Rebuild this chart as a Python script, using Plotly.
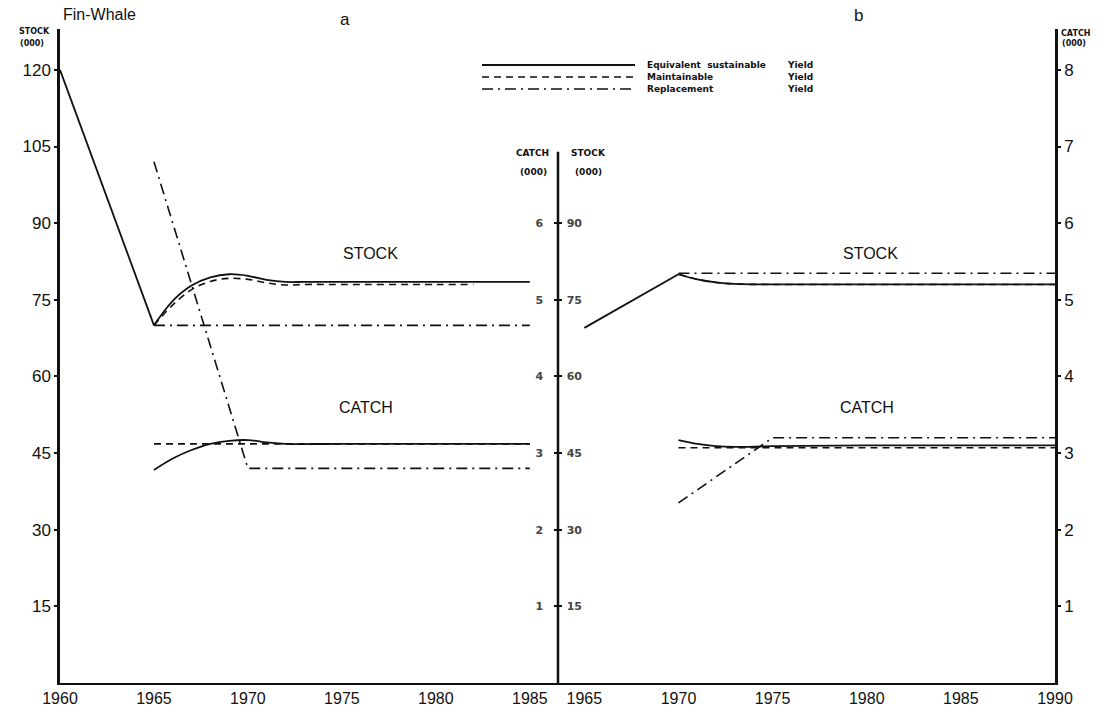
import plotly.graph_objects as go

# ---------------- data (stock in thousands, catch in thousands) ----------------
# Panel a
a_drop_years = [1960, 1965]
a_drop_stock = [120, 70]

a_years = [1965, 1966, 1967, 1968, 1969, 1970, 1971, 1972, 1973, 1975, 1980, 1985]
a_esy_stock = [70, 74.8, 77.8, 79.4, 80.0, 79.7, 78.9, 78.5, 78.5, 78.5, 78.5, 78.5]
a_my_years = [1965, 1966, 1967, 1968, 1969, 1970, 1971, 1972, 1973, 1975, 1980, 1982]
a_my_stock = [70, 74.0, 77.0, 78.6, 79.2, 79.0, 78.3, 77.9, 78.0, 78.0, 78.0, 78.0]
a_ry_years = [1965, 1985]
a_ry_stock = [70, 70]

a_esy_catch_years = [1965, 1966, 1967, 1968, 1969, 1970, 1971, 1972, 1975, 1985]
a_esy_catch = [2.78, 2.93, 3.04, 3.12, 3.16, 3.17, 3.14, 3.12, 3.12, 3.12]
a_my_catch_years = [1965, 1985]
a_my_catch = [3.12, 3.12]
a_ry_catch_years = [1965, 1970, 1985]
a_ry_catch = [6.8, 2.8, 2.8]

# Panel b
b_years = [1965, 1970, 1971, 1972, 1973, 1975, 1980, 1990]
b_esy_stock = [69.5, 80.0, 79.0, 78.4, 78.1, 78.0, 78.0, 78.0]
b_my_years = [1970, 1971, 1972, 1973, 1975, 1980, 1990]
b_my_stock = [80.0, 79.0, 78.4, 78.1, 78.0, 78.0, 78.0]
b_ry_years = [1970, 1990]
b_ry_stock = [80.2, 80.2]

b_esy_catch_years = [1970, 1971, 1972, 1973, 1975, 1980, 1990]
b_esy_catch = [3.17, 3.12, 3.09, 3.08, 3.09, 3.1, 3.1]
b_my_catch_years = [1970, 1990]
b_my_catch = [3.07, 3.07]
b_ry_catch_years = [1970, 1975, 1990]
b_ry_catch = [2.35, 3.2, 3.2]

stock_ticks = [15, 30, 45, 60, 75, 90, 105, 120]
mid_stock_ticks = [15, 30, 45, 60, 75, 90]
mid_stock_labels = ["15", "30", "45", "60", "75", "90"]
mid_catch_ticks = [1, 2, 3, 4, 5, 6]
right_catch_ticks = [1, 2, 3, 4, 5, 6, 7, 8]
a_year_ticks = [1960, 1965, 1970, 1975, 1980, 1985]
b_year_ticks = [1965, 1970, 1975, 1980, 1985, 1990]

legend_names = ["Equivalent  sustainable", "Maintainable", "Replacement"]

# ---------------- layout geometry ----------------
W, H = 1104, 707
L, R, T, B = 60, 49, 29, 24
PW, PH = W - L - R, H - T - B
STOCK_MAX = 128.0
CATCH_MAX = STOCK_MAX / 15.0
SPLIT = (558 - L) / PW


def px(X):
    return (X - L) / PW


def py(Y):
    return (H - B - Y) / PH


FONT = "Liberation Sans"
BOLD = "DejaVu Sans"
BLACK = "#111111"
SOLID = dict(color=BLACK, width=1.8)
DASH = dict(color=BLACK, width=1.6, dash="7px,5px")
DASHDOT = dict(color=BLACK, width=1.6, dash="11px,5px,2px,5px")

fig = go.Figure()


def add(x, y, line, xa, ya, shape="linear"):
    fig.add_trace(go.Scatter(x=x, y=y, mode="lines", line=dict(**line, shape=shape),
                             xaxis=xa, yaxis=ya, showlegend=False, hoverinfo="skip"))


# panel a stock (x, y)
add(a_drop_years, a_drop_stock, SOLID, "x", "y")
add(a_years, a_esy_stock, SOLID, "x", "y", "spline")
add(a_my_years, a_my_stock, DASH, "x", "y", "spline")
add(a_ry_years, a_ry_stock, DASHDOT, "x", "y")
# panel a catch (x, y3 overlaying y)
add(a_esy_catch_years, a_esy_catch, SOLID, "x", "y3", "spline")
add(a_my_catch_years, a_my_catch, DASH, "x", "y3")
add(a_ry_catch_years, a_ry_catch, DASHDOT, "x", "y3")
# panel b stock (x2, y2)
add(b_years[:2], b_esy_stock[:2], SOLID, "x2", "y2")
add(b_years[1:], b_esy_stock[1:], SOLID, "x2", "y2", "spline")
add(b_my_years, b_my_stock, DASH, "x2", "y2", "spline")
add(b_ry_years, b_ry_stock, DASHDOT, "x2", "y2")
# panel b catch (x2, y4 overlaying y2)
add(b_esy_catch_years, b_esy_catch, SOLID, "x2", "y4", "spline")
add(b_my_catch_years, b_my_catch, DASH, "x2", "y4")
add(b_ry_catch_years, b_ry_catch, DASHDOT, "x2", "y4")

axis_common = dict(showgrid=False, zeroline=False, color=BLACK, automargin=False)
mid_font = dict(size=11, family=BOLD, weight="bold")

fig.update_layout(
    width=W, height=H,
    margin=dict(l=L, r=R, t=T, b=B, pad=0, autoexpand=False),
    paper_bgcolor="white", plot_bgcolor="white",
    font=dict(family=FONT, color=BLACK),
    xaxis=dict(domain=[0, SPLIT], range=[1960, 1986.5], tickvals=a_year_ticks,
               showline=True, linewidth=2, linecolor=BLACK, ticks="",
               tickfont=dict(size=16), anchor="y", **axis_common),
    xaxis2=dict(domain=[SPLIT, 1], range=[1963.6, 1990], tickvals=b_year_ticks,
                showline=True, linewidth=2, linecolor=BLACK, ticks="",
                tickfont=dict(size=16), anchor="y2", **axis_common),
    # left stock axis (panel a)
    yaxis=dict(range=[0, STOCK_MAX], tickvals=stock_ticks, anchor="x", side="left",
               showline=True, linewidth=2.5, linecolor=BLACK, ticks="outside",
               ticklen=3, tickwidth=1.5, tickcolor=BLACK, tickfont=dict(size=17),
               **axis_common),
    # middle stock axis (panel b), labels to the right of the middle line
    yaxis2=dict(range=[0, STOCK_MAX], tickvals=mid_stock_ticks,
                ticktext=["\u00a0" + t for t in mid_stock_labels],
                anchor="x2", side="left",
                ticklabelposition="inside", showline=False,
                ticks="inside", ticklen=4, tickwidth=1.5, tickcolor=BLACK,
                tickfont=mid_font, **axis_common),
    # middle catch axis (panel a), labels to the left of the middle line
    yaxis3=dict(range=[0, CATCH_MAX], tickvals=mid_catch_ticks, overlaying="y",
                anchor="x", side="right", ticklabelposition="inside",
                ticklabelstandoff=10, showline=False, ticks="inside", ticklen=4,
                tickwidth=1.5, tickcolor=BLACK, tickfont=mid_font, **axis_common),
    # right catch axis (panel b)
    yaxis4=dict(range=[0, CATCH_MAX], tickvals=right_catch_ticks, overlaying="y2",
                anchor="x2", side="right", showline=True, linewidth=2.5, linecolor=BLACK,
                ticks="outside", ticklen=3, tickwidth=1.5, tickcolor=BLACK,
                tickfont=dict(size=17), **axis_common),
)

# middle axis line (only up to ~104 thousand)
fig.add_shape(type="line", xref="paper", yref="y", x0=SPLIT, x1=SPLIT, y0=0, y1=104,
              line=dict(color=BLACK, width=2.5))

# legend samples
legend_styles = [SOLID, DASH, DASHDOT]
legend_y = [65, 77, 89]
for name, st, ly in zip(legend_names, legend_styles, legend_y):
    fig.add_shape(type="line", xref="paper", yref="paper", x0=px(482), x1=px(635),
                  y0=py(ly), y1=py(ly), line=st)
    fig.add_annotation(xref="paper", yref="paper", x=px(645), y=py(ly), text=name,
                       showarrow=False, xanchor="left", yanchor="middle",
                       font=dict(family=BOLD, size=9, weight="bold"))
    fig.add_annotation(xref="paper", yref="paper", x=px(785), y=py(ly), text="Yield",
                       showarrow=False, xanchor="left", yanchor="middle",
                       font=dict(family=BOLD, size=9, weight="bold"))


def ann(text, X, Y, size, anchor="center", family=FONT, weight="normal"):
    fig.add_annotation(xref="paper", yref="paper", x=px(X), y=py(Y), text=text,
                       showarrow=False, xanchor=anchor, yanchor="middle",
                       font=dict(family=family, size=size, weight=weight))


ann("Fin-Whale", 61, 14, 16, "left")
ann("a", 345, 19, 17)
ann("b", 858, 16, 17)
ann("STOCK", 34, 32, 8, family=BOLD, weight="bold")
ann("(000)", 32, 43, 8, family=BOLD, weight="bold")
ann("CATCH", 1059, 34, 8, "left", family=BOLD, weight="bold")
ann("(000)", 1060, 44, 8, "left", family=BOLD, weight="bold")
ann("CATCH", 532, 153, 9, family=BOLD, weight="bold")
ann("(000)", 533, 172, 9, family=BOLD, weight="bold")
ann("STOCK", 588, 153, 9, family=BOLD, weight="bold")
ann("(000)", 588, 172, 9, family=BOLD, weight="bold")

# series labels in data coordinates
fig.add_annotation(xref="x", yref="y", x=1976.5, y=84, text="STOCK", showarrow=False,
                   font=dict(size=16, family=FONT))
fig.add_annotation(xref="x", yref="y", x=1976.3, y=54, text="CATCH", showarrow=False,
                   font=dict(size=16, family=FONT))
fig.add_annotation(xref="x2", yref="y2", x=1980.2, y=84, text="STOCK", showarrow=False,
                   font=dict(size=16, family=FONT))
fig.add_annotation(xref="x2", yref="y2", x=1980.0, y=54, text="CATCH", showarrow=False,
                   font=dict(size=16, family=FONT))

fig.write_html("out.html", config={"displayModeBar": False},
               post_script="document.body.style.margin='0';document.body.style.overflow='hidden';")
